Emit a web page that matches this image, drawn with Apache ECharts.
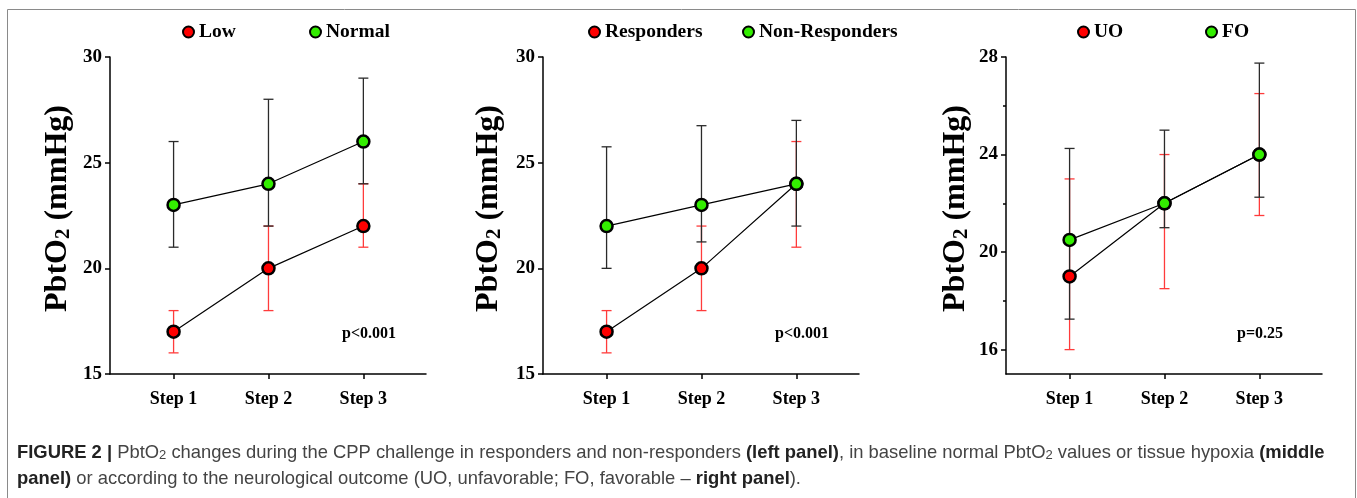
<!DOCTYPE html>
<html>
<head>
<meta charset="utf-8">
<script src="https://cdn.jsdelivr.net/npm/echarts@6/dist/echarts.min.js"></script>
<style>html,body{margin:0;padding:0;background:#fff}#c{width:1357px;height:498px}</style>
</head>
<body>
<div id="c"></div>
<script>
// ---- data ----
const steps = ['Step 1', 'Step 2', 'Step 3'];
const stepX = [1, 2, 3];
// Left panel
const lowMean = [17, 20, 22];
const lowLower = [16, 18, 21];
const lowUpper = [18, 22, 24];
const normalMean = [23, 24, 26];
const normalLower = [21, 22, 24];
const normalUpper = [26, 28, 29];
// Middle panel
const respMean = [17, 20, 24];
const respLower = [16, 18, 21];
const respUpper = [18, 22, 26];
const nonRespMean = [22, 23, 24];
const nonRespLower = [20, 21.25, 22];
const nonRespUpper = [25.75, 26.75, 27];
// Right panel
const uoMean = [19, 22, 24];
const uoLower = [16, 18.5, 21.5];
const uoUpper = [23, 24, 26.5];
const foMean = [20.5, 22, 24];
const foLower = [17.25, 21, 22.25];
const foUpper = [24.25, 25, 27.75];
// Ticks
const yTicksA = [15, 20, 25, 30];
const yTicksC = [16, 20, 24, 28];
const yMinorC = [18, 22, 26];
const pValues = ['p<0.001', 'p<0.001', 'p=0.25'];

const SERIF = '"Liberation Serif", "Times New Roman", serif';
const SANS = '"Liberation Sans", Arial, Helvetica, sans-serif';
const RED = '#ff0000', GREEN = '#33ee00';
const RED_BAR = '#ff3b3b', BLACK_BAR = '#2a2a2a';

const chart = echarts.init(document.getElementById('c'), null, {renderer: 'canvas'});

const gridLefts = [110, 543, 1006];
const grids = gridLefts.map(l => ({left: l, top: 57, width: 316, height: 317}));

function xAxisFor(i) {
  return {
    type: 'value', gridIndex: i, min: 0.33, max: 3.66,
    axisLine: {lineStyle: {color: '#000', width: 1.5}},
    axisTick: {customValues: stepX, length: 5, lineStyle: {color: '#000', width: 1.5}},
    axisLabel: {customValues: stepX, formatter: v => steps[stepX.indexOf(v)] || '',
      fontFamily: SERIF, fontWeight: 'bold', fontSize: 18, color: '#000', margin: 16},
    splitLine: {show: false}
  };
}
function yAxisFor(i, min, max, ticks, gap) {
  return {
    type: 'value', gridIndex: i, min: min, max: max, position: 'left',
    axisLine: {show: true, lineStyle: {color: '#000', width: 1.5}},
    axisTick: {show: true, customValues: ticks, length: 5, lineStyle: {color: '#000', width: 1.5}},
    axisLabel: {customValues: ticks, fontFamily: SERIF, fontWeight: 'bold', fontSize: 19, color: '#000', margin: 8},
    splitLine: {show: false},
    name: 'PbtO{sub|2} (mmHg)', nameLocation: 'middle', nameGap: gap, nameRotate: 90,
    nameTextStyle: {
      fontFamily: SERIF, fontWeight: 'bold', fontSize: 32, color: '#000', padding: [0, 0, 0, 14],
      rich: {sub: {fontFamily: SERIF, fontWeight: 'bold', fontSize: 21, color: '#000', verticalAlign: 'bottom', lineHeight: 14}}
    }
  };
}

const xAxes = [0, 1, 2].map(xAxisFor);
const yAxes = [
  yAxisFor(0, 15, 30, yTicksA, 36),
  yAxisFor(1, 15, 30, yTicksA, 38),
  yAxisFor(2, 15, 28, yTicksC, 34),
  {
    type: 'value', gridIndex: 2, min: 15, max: 28, position: 'left',
    axisLine: {show: false}, axisLabel: {show: false}, splitLine: {show: false},
    axisTick: {show: true, customValues: yMinorC, length: 3, lineStyle: {color: '#000', width: 1.5}}
  }
];

function errSeries(name, grid, yIdx, lower, upper, color, z) {
  return {
    name: name + ' SD', type: 'custom', xAxisIndex: grid, yAxisIndex: yIdx, z: z,
    silent: true, animation: false,
    data: stepX.map((x, k) => [x, lower[k], upper[k]]),
    encode: {x: 0, y: [1, 2]},
    renderItem: function (params, api) {
      const x = api.value(0);
      const a = api.coord([x, api.value(1)]);
      const b = api.coord([x, api.value(2)]);
      const w = 5;
      const st = {stroke: color, lineWidth: 1.3};
      return {type: 'group', children: [
        {type: 'line', shape: {x1: a[0], y1: a[1], x2: b[0], y2: b[1]}, style: st},
        {type: 'line', shape: {x1: a[0] - w, y1: a[1], x2: a[0] + w, y2: a[1]}, style: st},
        {type: 'line', shape: {x1: b[0] - w, y1: b[1], x2: b[0] + w, y2: b[1]}, style: st}
      ]};
    }
  };
}
function meanSeries(name, grid, yIdx, mean, color) {
  return {
    name: name, type: 'line', xAxisIndex: grid, yAxisIndex: yIdx, z: 5,
    data: stepX.map((x, k) => [x, mean[k]]),
    symbol: 'circle', symbolSize: 12, showSymbol: true,
    itemStyle: {color: color, borderColor: '#000', borderWidth: 2.5},
    lineStyle: {color: '#000', width: 1.2},
    emphasis: {disabled: true}, animation: false
  };
}

const series = [
  errSeries('Low', 0, 0, lowLower, lowUpper, RED_BAR, 2),
  errSeries('Normal', 0, 0, normalLower, normalUpper, BLACK_BAR, 3),
  meanSeries('Low', 0, 0, lowMean, RED),
  meanSeries('Normal', 0, 0, normalMean, GREEN),
  errSeries('Responders', 1, 1, respLower, respUpper, RED_BAR, 2),
  errSeries('Non-Responders', 1, 1, nonRespLower, nonRespUpper, BLACK_BAR, 3),
  meanSeries('Responders', 1, 1, respMean, RED),
  meanSeries('Non-Responders', 1, 1, nonRespMean, GREEN),
  errSeries('UO', 2, 2, uoLower, uoUpper, RED_BAR, 2),
  errSeries('FO', 2, 2, foLower, foUpper, BLACK_BAR, 3),
  meanSeries('UO', 2, 2, uoMean, RED),
  meanSeries('FO', 2, 2, foMean, GREEN)
];

const legendItems = [
  ['Low', 182], ['Normal', 309], ['Responders', 588], ['Non-Responders', 742], ['UO', 1077], ['FO', 1205]
];
const legends = legendItems.map(([n, l]) => ({
  data: [n], left: l, top: 22, padding: 0, icon: 'circle', itemWidth: 11, itemHeight: 11, itemGap: 5,
  selectedMode: false,
  textStyle: {fontFamily: SERIF, fontWeight: 'bold', fontSize: 19.5, color: '#000', padding: [0, 0, 0, 0]}
}));

const pLefts = [342, 775, 1237];
const CAP = 18.4;
const graphics = [
  {type: 'rect', silent: true, shape: {x: 7.5, y: 9.5, width: 1348, height: 520},
   style: {fill: 'none', stroke: '#8a8a8a', lineWidth: 1}},
  ...pValues.map((t, i) => ({
    type: 'text', left: pLefts[i], top: 326, silent: true,
    style: {text: t, font: 'bold 16px ' + SERIF, fill: '#000'}
  })),
  {type: 'text', left: 17, top: 444, silent: true,
   style: {
     text: '{b|FIGURE 2 |} PbtO{s|2} changes during the CPP challenge in responders and non-responders {b|(left panel)}, in baseline normal PbtO{s|2} values or tissue hypoxia {b|(middle}',
     font: CAP + 'px ' + SANS, fill: '#444',
     rich: {
       b: {fontFamily: SANS, fontWeight: 'bold', fontSize: CAP, fill: '#222'},
       s: {fontFamily: SANS, fontSize: 13, fill: '#444', verticalAlign: 'bottom', lineHeight: 13}
     }
   }},
  {type: 'text', left: 17, top: 470, silent: true,
   style: {
     text: '{b|panel)} or according to the neurological outcome (UO, unfavorable; FO, favorable – {b|right panel}).',
     font: CAP + 'px ' + SANS, fill: '#444',
     rich: {b: {fontFamily: SANS, fontWeight: 'bold', fontSize: CAP, fill: '#222'}}
   }}
];

chart.setOption({
  animation: false,
  backgroundColor: '#fff',
  grid: grids,
  xAxis: xAxes,
  yAxis: yAxes,
  legend: legends,
  series: series,
  graphic: graphics
});
</script>
</body>
</html>
